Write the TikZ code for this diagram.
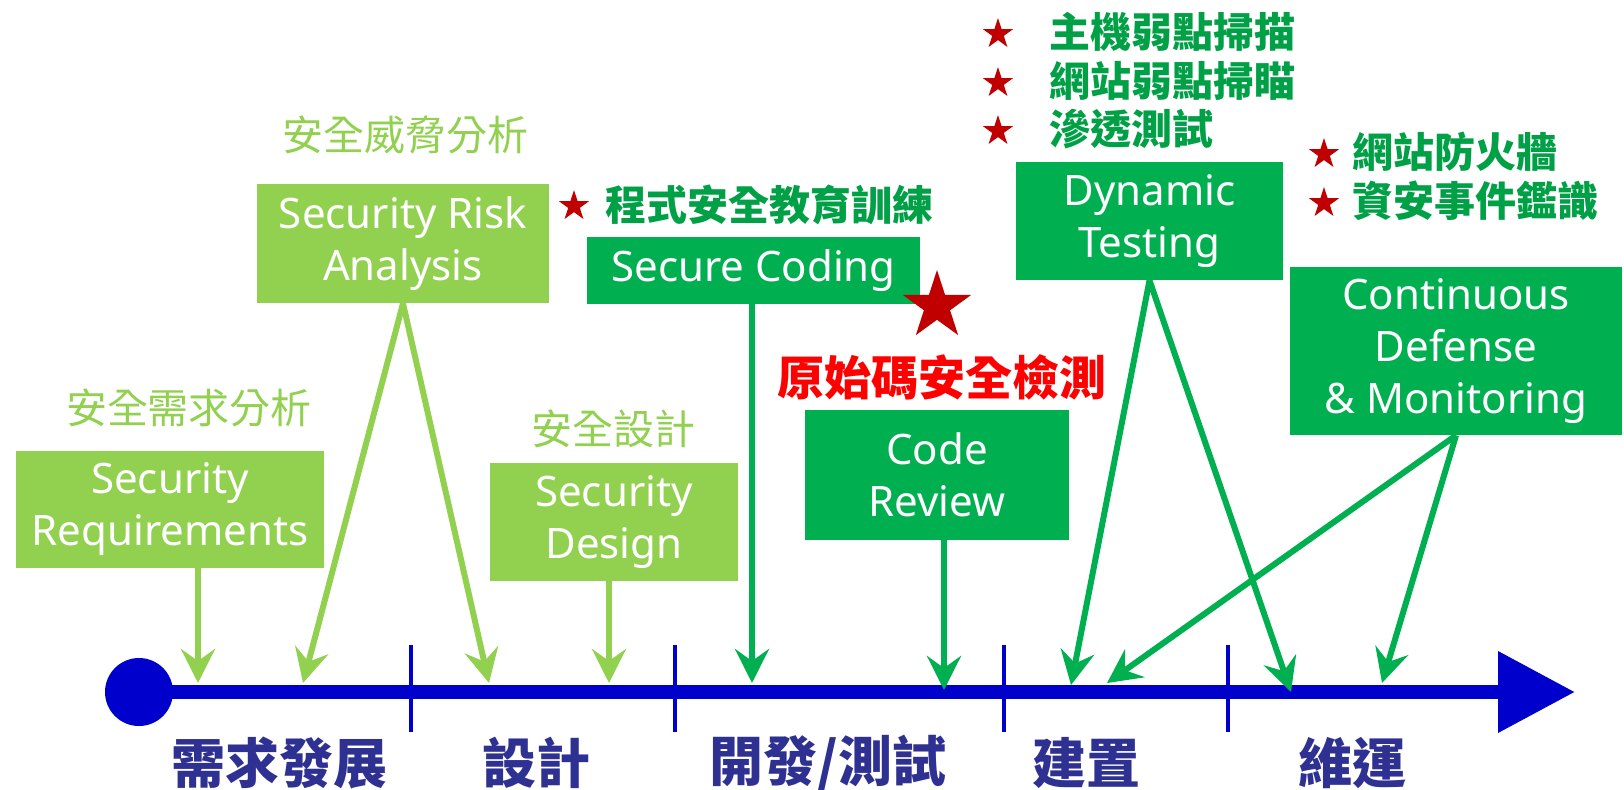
\documentclass[tikz,border=0pt]{standalone}
\usepackage{fontspec}
\setmainfont{Noto Sans}
\newfontfamily\cjk{Noto Sans CJK TC}
\usetikzlibrary{arrows.meta,shapes.geometric}
\definecolor{lgreen}{RGB}{146,208,80}
\definecolor{dgreen}{RGB}{0,176,80}
\definecolor{tgreen}{RGB}{0,160,70}
\definecolor{tlblue}{RGB}{0,0,204}
\definecolor{navy}{RGB}{46,49,146}
\definecolor{dred}{RGB}{192,0,0}

\tikzset{
  box/.style={fill=#1, text=white, align=center, inner sep=0pt, font=\fontsize{21}{26}\selectfont},
  lgbox/.style={box=lgreen},
  dgbox/.style={box=dgreen},
  lglabel/.style={text=lgreen, inner sep=0pt, font=\fontsize{20.5}{24}\selectfont\cjk},
  gtext/.style={text=tgreen, inner sep=0pt, anchor=west, font=\fontsize{20.5}{24}\selectfont\cjk\bfseries},
  redtext/.style={text=red, inner sep=0pt, font=\fontsize{23.5}{28}\selectfont\cjk\bfseries},
  phase/.style={text=navy, inner sep=0pt, font=\fontsize{27}{30}\selectfont\cjk\bfseries},
  rstar/.style={star, star points=5, star point ratio=2.618, fill=dred, inner sep=0pt, minimum size=16pt},
  lgarrow/.style={draw=lgreen, line width=3pt, -{Stealth[length=17pt,width=17pt,inset=6pt]}},
  dgarrow/.style={draw=dgreen, line width=3pt, -{Stealth[length=17pt,width=17pt,inset=6pt]}},
  timeline/.style={draw=tlblue, line width=7pt, -{Triangle[length=38.5pt,width=39pt]}},
  tick/.style={draw=tlblue, line width=2pt}
}

\begin{document}
\begin{tikzpicture}[x=0.5pt,y=0.5pt,yscale=-1,xscale=1]
\useasboundingbox (0,0) rectangle (1624,789);

\node [circle, fill=tlblue, inner sep=0pt, minimum size=34pt] (origin) at (139,692) {};
\coordinate (tlend) at (1575,692);
\draw [timeline] (origin.center) -- (tlend);
\foreach \x in {411,675,1004,1228}
  \draw [tick] (\x,645) -- (\x,732);

\node [lgbox, minimum width=154pt, minimum height=58.5pt] (req) at (170,509.5) {Security\\Requirements};
\node [lgbox, minimum width=146pt, minimum height=59.5pt] (risk) at (403,243.5) {Security Risk\\Analysis};
\node [lgbox, minimum width=124pt, minimum height=59pt] (design) at (614,522) {Security\\Design};
\node [dgbox, minimum width=166.5pt, minimum height=33.5pt] (coding) at (753.5,270.5) {Secure Coding};
\node [dgbox, minimum width=132pt, minimum height=65pt] (review) at (937,475) {Code\\Review};
\node [dgbox, minimum width=133.5pt, minimum height=59pt] (dyn) at (1149.5,221) {Dynamic\\Testing};
\node [dgbox, minimum width=166pt, minimum height=84pt] (cdm) at (1456,351) {Continuous\\Defense\\\& Monitoring};

\node [lglabel] (reqtag) at (189,408) {安全需求分析};
\node [lglabel] (risktag) at (405,135) {安全威脅分析};
\node [lglabel] (designtag) at (613,429) {安全設計};

\node [rstar] (trainstar) at (574,206) {};
\node [gtext] (traintag) at (605,205) {程式安全教育訓練};
\node [rstar, minimum size=36pt] (bigstar) at (937,306) {};
\node [redtext] (srctag) at (942,377) {原始碼安全檢測};

\foreach \y/\t [count=\i] in {32/主機弱點掃描, 81/網站弱點掃瞄, 129/滲透測試} {
  \node [rstar] (scanstar\i) at (998,\y+2) {};
  \node [gtext] (scantag\i) at (1049,\y) {\t};
}
\foreach \y/\t [count=\i] in {152/網站防火牆, 201/資安事件鑑識} {
  \node [rstar] (defstar\i) at (1324,\y+2) {};
  \node [gtext] (deftag\i) at (1352,\y) {\t};
}

\node [phase] (ph1) at (279,763) {需求發展};
\node [phase] (ph2) at (536,763) {設計};
\node [phase] (ph3) at (828,763) {開發/測試};
\node [phase] (ph4) at (1086,763) {建置};
\node [phase] (ph5) at (1352,763) {維運};

\coordinate (p1) at (198,683);
\coordinate (p2) at (303,683);
\coordinate (p3) at (489,683);
\coordinate (p4) at (609,683);
\coordinate (p5) at (752,683);
\coordinate (p6) at (944,690);
\coordinate (p7) at (1071,685);
\coordinate (p8) at (1291,692);
\coordinate (p9) at (1107,683);
\coordinate (p10) at (1382,683);

\draw [lgarrow] (req.south -| p1) -- (p1);
\draw [lgarrow] (risk.south) -- (p2);
\draw [lgarrow] (risk.south) -- (p3);
\draw [lgarrow] (design.south -| p4) -- (p4);
\draw [dgarrow] (coding.south -| p5) -- (p5);
\draw [dgarrow] (review.south -| p6) -- (p6);
\draw [dgarrow] (dyn.south) -- (p7);
\draw [dgarrow] (dyn.south) -- (p8);
\draw [dgarrow] (cdm.south) -- (p9);
\draw [dgarrow] (cdm.south) -- (p10);

\end{tikzpicture}
\end{document}
